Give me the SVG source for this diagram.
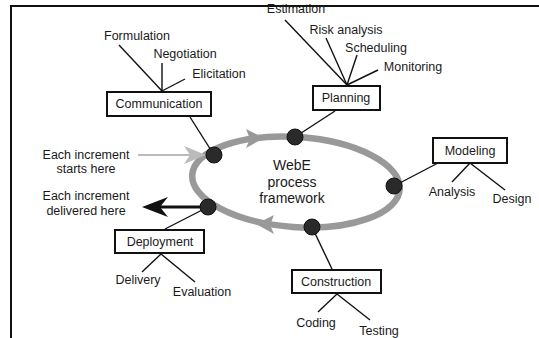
<svg xmlns="http://www.w3.org/2000/svg" width="539" height="338" viewBox="0 0 539 338">
<defs>
<style>
text{font-family:"Liberation Sans",Arial,sans-serif;font-size:12.5px;fill:#1a1a1a;}
.lbl{text-anchor:middle;}
.ctr{font-size:14px;}
.box{fill:#fff;stroke:#111;stroke-width:2;}
.ln{stroke:#111;stroke-width:1.4;fill:none;}
.dot{fill:#2a2a2a;stroke:#111;stroke-width:1;}
</style>
</defs>
<rect width="539" height="338" fill="#fff"/>
<path d="M11,338 V6 H539" fill="none" stroke="#111" stroke-width="2"/>
<g id="cycle">
<ellipse cx="296" cy="182" rx="104" ry="45" transform="rotate(4 296 182)" fill="none" stroke="#999" stroke-width="6.5"/>
<polygon points="264,138 246,129 250,139 246,148" fill="#999"/>
<polygon points="256,224 274,215 270,225 274,234" fill="#999"/>
<text class="lbl ctr" x="292" y="170">WebE</text>
<text class="lbl ctr" x="292" y="187">process</text>
<text class="lbl ctr" x="292" y="203">framework</text>
</g>
<g id="connectors">
<line class="ln" x1="190" y1="117" x2="214" y2="155"/>
<line class="ln" x1="162" y1="91" x2="119" y2="45"/>
<line class="ln" x1="162" y1="91" x2="162" y2="63"/>
<line class="ln" x1="162" y1="91" x2="185" y2="79"/>
<line class="ln" x1="335" y1="111" x2="295" y2="137"/>
<line class="ln" x1="347" y1="85" x2="285" y2="20"/>
<line class="ln" x1="347" y1="85" x2="326" y2="38"/>
<line class="ln" x1="347" y1="85" x2="357" y2="55"/>
<line class="ln" x1="347" y1="85" x2="378" y2="70"/>
<line class="ln" x1="394" y1="186" x2="438" y2="163"/>
<line class="ln" x1="470" y1="163" x2="452" y2="182"/>
<line class="ln" x1="470" y1="163" x2="505" y2="190"/>
<line class="ln" x1="312" y1="227" x2="332" y2="269"/>
<line class="ln" x1="337" y1="294" x2="318" y2="312"/>
<line class="ln" x1="337" y1="294" x2="370" y2="320"/>
<line class="ln" x1="208" y1="207" x2="165" y2="229"/>
<line class="ln" x1="161" y1="254" x2="142" y2="272"/>
<line class="ln" x1="161" y1="254" x2="195" y2="282"/>
<line x1="138" y1="155" x2="192" y2="155" stroke="#bbb" stroke-width="2"/>
<polygon points="206,155 184,146 190,155 184,164" fill="#bbb"/>
<line x1="160" y1="207" x2="208" y2="207" stroke="#111" stroke-width="3"/>
<polygon points="142,207 168,197 160,207 168,217" fill="#111"/>
</g>
<g id="dots">
<circle class="dot" cx="214" cy="155" r="8"/>
<circle class="dot" cx="295" cy="137" r="8"/>
<circle class="dot" cx="394" cy="186" r="8"/>
<circle class="dot" cx="312" cy="227" r="8"/>
<circle class="dot" cx="208" cy="207" r="8"/>
</g>
<g id="communication">
<rect class="box" x="107" y="92" width="104" height="24"/>
<text class="lbl" x="159" y="108">Communication</text>
<text class="lbl" x="137" y="40">Formulation</text>
<text class="lbl" x="185" y="58">Negotiation</text>
<text class="lbl" x="219" y="78">Elicitation</text>
</g>
<g id="planning">
<rect class="box" x="313" y="86" width="67" height="24"/>
<text class="lbl" x="346" y="102">Planning</text>
<text class="lbl" x="296" y="13">Estimation</text>
<text class="lbl" x="346" y="34">Risk analysis</text>
<text class="lbl" x="376" y="52">Scheduling</text>
<text class="lbl" x="413" y="71">Monitoring</text>
</g>
<g id="modeling">
<rect class="box" x="433" y="138" width="74" height="25"/>
<text class="lbl" x="470" y="155">Modeling</text>
<text class="lbl" x="452" y="196">Analysis</text>
<text class="lbl" x="512" y="203">Design</text>
</g>
<g id="construction">
<rect class="box" x="292" y="270" width="89" height="23"/>
<text class="lbl" x="336" y="286">Construction</text>
<text class="lbl" x="316" y="327">Coding</text>
<text class="lbl" x="379" y="335">Testing</text>
</g>
<g id="deployment">
<rect class="box" x="115" y="230" width="89" height="23"/>
<text class="lbl" x="160" y="246">Deployment</text>
<text class="lbl" x="138" y="284">Delivery</text>
<text class="lbl" x="202" y="296">Evaluation</text>
</g>
<g id="start-note">
<text class="lbl" x="86" y="159">Each increment</text>
<text class="lbl" x="86" y="173">starts here</text>
</g>
<g id="delivered-note">
<text class="lbl" x="86" y="200">Each increment</text>
<text class="lbl" x="86" y="215">delivered here</text>
</g>
</svg>
